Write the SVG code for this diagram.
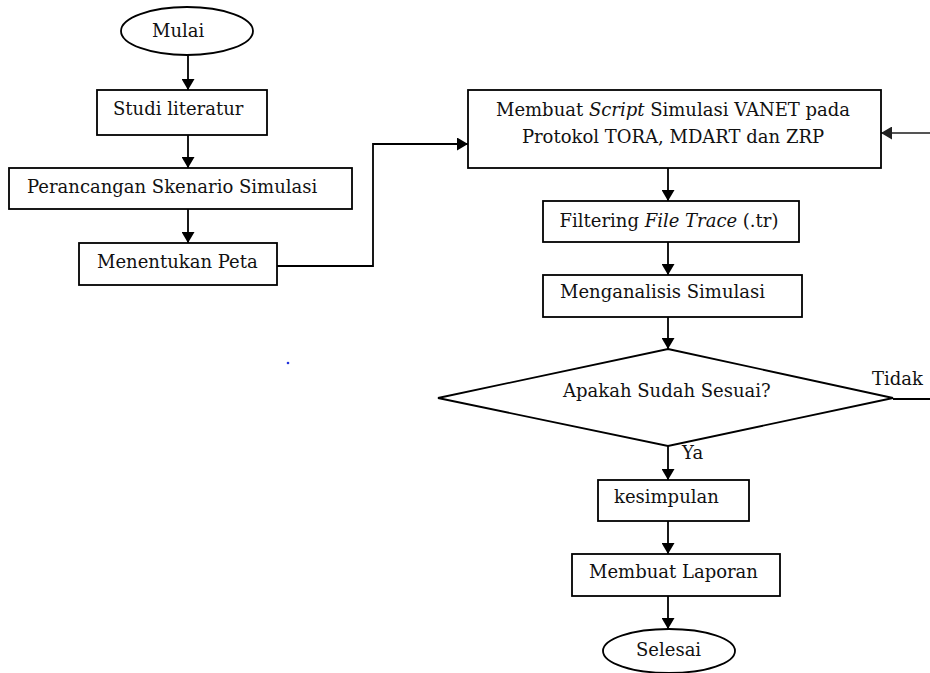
<svg xmlns="http://www.w3.org/2000/svg" width="930" height="673" viewBox="0 0 930 673">
<style>
.box{fill:#fff;stroke:#000;stroke-width:1.8}
.ln{fill:none;stroke:#000;stroke-width:1.8}
.t{font-family:"DejaVu Serif","Liberation Serif",serif;font-size:18px;fill:#111}
.i{font-style:italic}
</style>
<defs>
<marker id="ah" markerWidth="12" markerHeight="13" refX="11" refY="6.5" orient="auto" markerUnits="userSpaceOnUse">
<path d="M0,0 L11,6.5 L0,13 Z" fill="#000"/>
</marker>
<marker id="ahg" markerWidth="12" markerHeight="13" refX="11" refY="6.5" orient="auto" markerUnits="userSpaceOnUse">
<path d="M0,0 L11,6.5 L0,13 Z" fill="#222"/>
</marker>
</defs>
<rect width="930" height="673" fill="#fff"/>
<g id="connectors">
<line class="ln" x1="188" y1="55" x2="188" y2="90" marker-end="url(#ah)"/>
<line class="ln" x1="188" y1="135" x2="188" y2="168" marker-end="url(#ah)"/>
<line class="ln" x1="188" y1="209" x2="188" y2="243" marker-end="url(#ah)"/>
<polyline class="ln" points="277,266 373,266 373,144 468,144" marker-end="url(#ah)"/>
<line x1="930" y1="133" x2="881" y2="133" stroke="#555" stroke-width="1.8" marker-end="url(#ahg)"/>
<line class="ln" x1="668" y1="168" x2="668" y2="201" marker-end="url(#ah)"/>
<line class="ln" x1="668" y1="242" x2="668" y2="275" marker-end="url(#ah)"/>
<line class="ln" x1="668" y1="317" x2="668" y2="349" marker-end="url(#ah)"/>
<line class="ln" x1="893" y1="399" x2="930" y2="399"/>
<line class="ln" x1="668" y1="446" x2="668" y2="480" marker-end="url(#ah)"/>
<line class="ln" x1="668" y1="521" x2="668" y2="554" marker-end="url(#ah)"/>
<line class="ln" x1="668" y1="596" x2="668" y2="629" marker-end="url(#ah)"/>
<text class="t" x="872" y="385">Tidak</text>
<text class="t" x="682" y="459">Ya</text>
</g>
<g id="mulai">
<ellipse class="box" cx="187" cy="31" rx="66" ry="24"/>
<text class="t" x="152" y="37">Mulai</text>
</g>
<g id="studi">
<rect class="box" x="97" y="90" width="170" height="45"/>
<text class="t" x="113" y="115">Studi literatur</text>
</g>
<g id="perancangan">
<rect class="box" x="9" y="168" width="343" height="41"/>
<text class="t" x="27" y="193">Perancangan Skenario Simulasi</text>
</g>
<g id="menentukan">
<rect class="box" x="79" y="243" width="198" height="42"/>
<text class="t" x="97" y="268">Menentukan Peta</text>
</g>
<g id="membuat-script">
<rect class="box" x="468" y="90" width="413" height="78"/>
<text class="t" x="673" y="116" text-anchor="middle">Membuat <tspan class="i">Script</tspan> Simulasi VANET pada</text>
<text class="t" x="673" y="143" text-anchor="middle">Protokol TORA, MDART  dan ZRP</text>
</g>
<g id="filtering">
<rect class="box" x="543" y="201" width="256" height="41"/>
<text class="t" x="669" y="227" text-anchor="middle">Filtering <tspan class="i">File Trace</tspan> (.tr)</text>
</g>
<g id="menganalisis">
<rect class="box" x="543" y="275" width="259" height="42"/>
<text class="t" x="560" y="298">Menganalisis Simulasi</text>
</g>
<g id="keputusan">
<polygon class="box" points="668,349 893,398 668,446 438,398"/>
<text class="t" x="563" y="397">Apakah Sudah Sesuai?</text>
</g>
<g id="kesimpulan">
<rect class="box" x="598" y="480" width="151" height="41"/>
<text class="t" x="614" y="503">kesimpulan</text>
</g>
<g id="laporan">
<rect class="box" x="572" y="554" width="208" height="42"/>
<text class="t" x="589" y="578">Membuat Laporan</text>
</g>
<g id="selesai">
<ellipse class="box" cx="669" cy="651" rx="66" ry="22"/>
<text class="t" x="636" y="656">Selesai</text>
</g>
<circle cx="288" cy="363" r="1.3" fill="#2233dd"/>
</svg>
